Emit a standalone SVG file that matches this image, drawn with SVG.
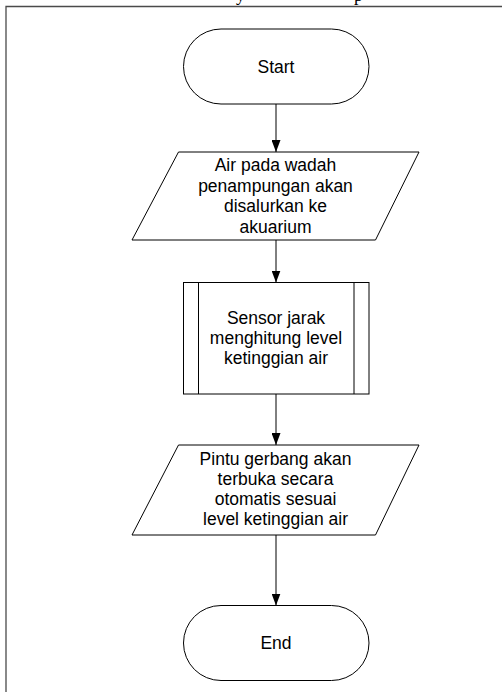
<svg xmlns="http://www.w3.org/2000/svg" width="503" height="692" viewBox="0 0 503 692">
  <style>
    .shape { fill: #ffffff; stroke: #000000; stroke-width: 1; }
    .label { font-family: "Liberation Sans", Arial, sans-serif; font-size: 17.5px; fill: #000000; text-anchor: middle; }
    .edge { stroke: #000000; stroke-width: 1; fill: none; marker-end: url(#arrow); }
    .frame { stroke: #4a4a4a; stroke-width: 1.3; fill: none; }
    .caption { font-family: "Liberation Serif", "Times New Roman", serif; font-size: 18px; fill: #000000; }
  </style>
  <defs>
    <!-- filled triangular arrowhead, 12 long and 9 wide -->
    <marker id="arrow" markerWidth="12" markerHeight="9" refX="12" refY="4.5" orient="auto" markerUnits="userSpaceOnUse" viewBox="0 0 12 9">
      <path d="M0,0 L12,4.5 L0,9 Z" fill="#000000"/>
    </marker>
  </defs>

  <!-- page background -->
  <rect x="0" y="0" width="503" height="692" fill="#ffffff"/>

  <!-- clipped caption line above the frame -->
  <text class="caption" x="236" y="0.5">y</text>
  <text class="caption" x="354" y="0.5">p</text>

  <!-- frame around the flowchart -->
  <path class="frame" d="M6,692 L6,6.5 L502,6.5"/>

  <!-- connectors -->
  <g id="connectors">
    <line class="edge" x1="276" y1="104" x2="276" y2="152"/>
    <line class="edge" x1="276" y1="240" x2="276" y2="282.5"/>
    <line class="edge" x1="276" y1="394" x2="276" y2="445"/>
    <line class="edge" x1="276" y1="535" x2="276" y2="605.5"/>
  </g>

  <!-- start terminator -->
  <g id="start">
    <rect class="shape" x="183.5" y="29" width="185.5" height="75" rx="37.5" ry="37.5"/>
    <text class="label" x="276" y="72.5">Start</text>
  </g>

  <!-- input: water from the reservoir -->
  <g id="input-water">
    <polygon class="shape" points="178.5,152 419,152 375.5,240 132,240"/>
    <text class="label" x="275.5" y="171">Air pada wadah</text>
    <text class="label" x="275.5" y="191.5">penampungan akan</text>
    <text class="label" x="275.5" y="212">disalurkan ke</text>
    <text class="label" x="275.5" y="232.5">akuarium</text>
  </g>

  <!-- predefined process: distance sensor -->
  <g id="sensor">
    <rect class="shape" x="183.5" y="282.5" width="185.5" height="111.5"/>
    <line class="shape" x1="198.5" y1="282.5" x2="198.5" y2="394"/>
    <line class="shape" x1="354" y1="282.5" x2="354" y2="394"/>
    <text class="label" x="276" y="323.5">Sensor jarak</text>
    <text class="label" x="276" y="343.5">menghitung level</text>
    <text class="label" x="276" y="363.5">ketinggian air</text>
  </g>

  <!-- output: gate opens -->
  <g id="output-gate">
    <polygon class="shape" points="178.5,445 419,445 375.5,535 132,535"/>
    <text class="label" x="275.5" y="464.5">Pintu gerbang akan</text>
    <text class="label" x="275.5" y="484.5">terbuka secara</text>
    <text class="label" x="275.5" y="504.5">otomatis sesuai</text>
    <text class="label" x="275.5" y="524.5">level ketinggian air</text>
  </g>

  <!-- end terminator -->
  <g id="end">
    <rect class="shape" x="183.5" y="605.5" width="185.5" height="75" rx="37.5" ry="37.5"/>
    <text class="label" x="276" y="649">End</text>
  </g>
</svg>
